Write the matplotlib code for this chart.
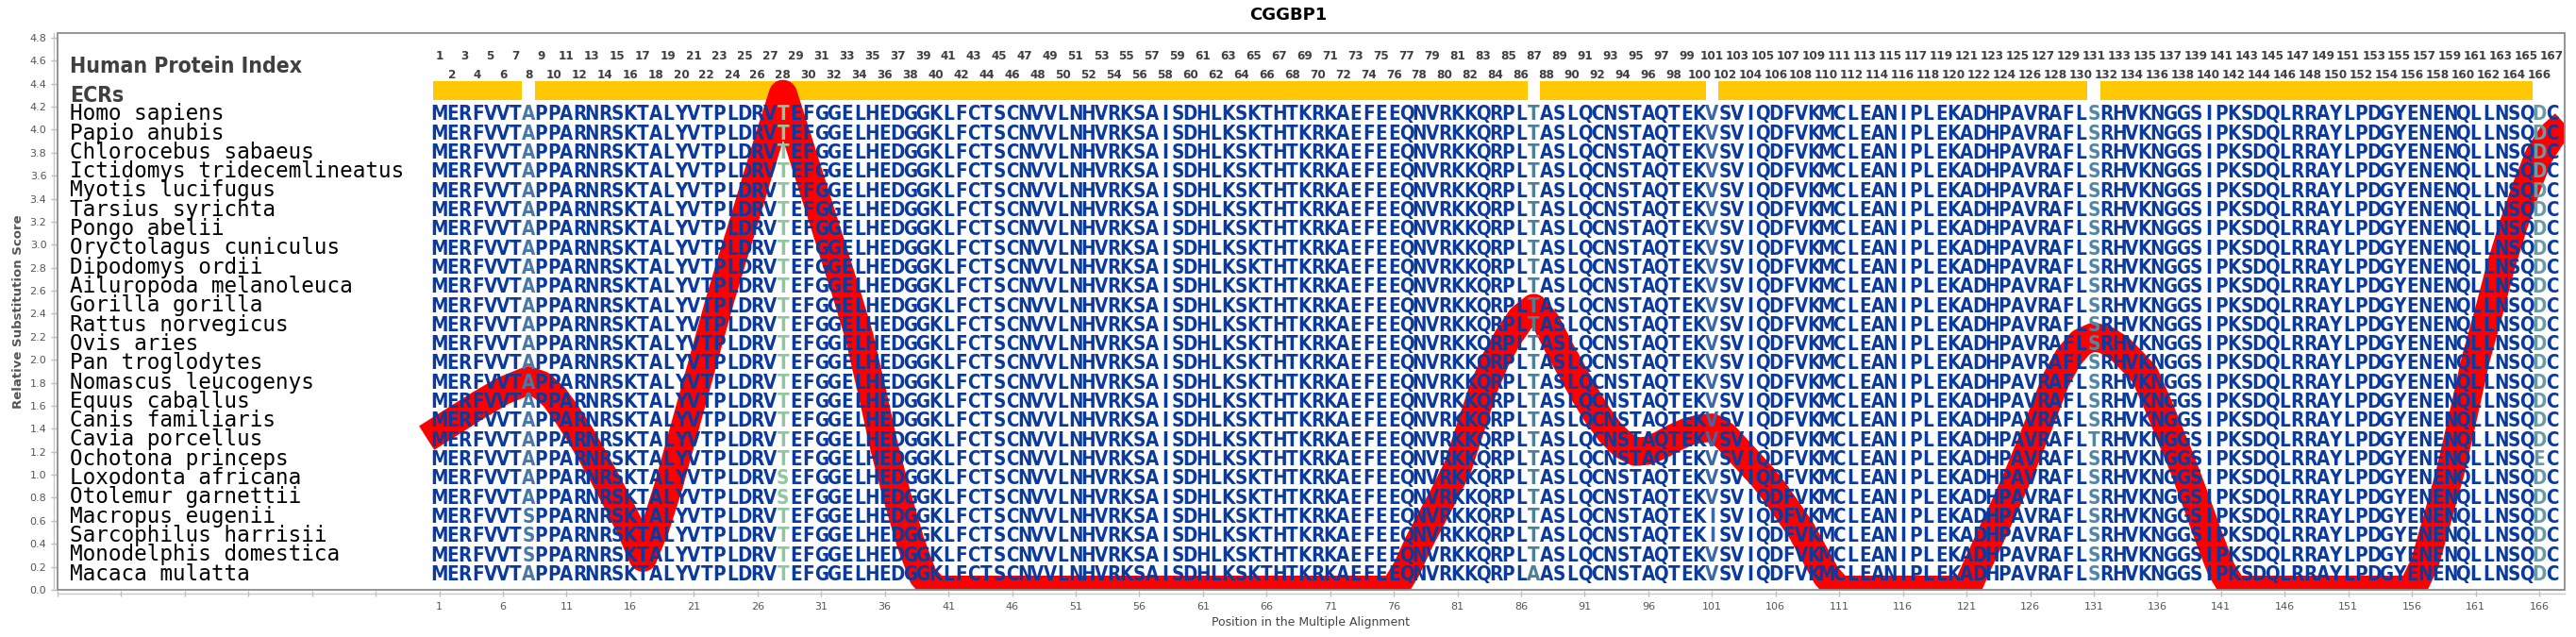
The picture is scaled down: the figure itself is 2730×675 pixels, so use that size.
import numpy as np
import matplotlib
matplotlib.use("Agg")
import matplotlib.pyplot as plt
from matplotlib import font_manager as fm
from matplotlib.font_manager import FontProperties
from matplotlib.patches import Rectangle

# ---------------- data ----------------
TITLE = "CGGBP1"
SPECIES = [
    "Homo sapiens", "Papio anubis", "Chlorocebus sabaeus", "Ictidomys tridecemlineatus",
    "Myotis lucifugus", "Tarsius syrichta", "Pongo abelii", "Oryctolagus cuniculus",
    "Dipodomys ordii", "Ailuropoda melanoleuca", "Gorilla gorilla", "Rattus norvegicus",
    "Ovis aries", "Pan troglodytes", "Nomascus leucogenys", "Equus caballus",
    "Canis familiaris", "Cavia porcellus", "Ochotona princeps", "Loxodonta africana",
    "Otolemur garnettii", "Macropus eugenii", "Sarcophilus harrisii",
    "Monodelphis domestica", "Macaca mulatta",
]
HUMAN_SEQ = ("MERFVVTAPPARNRSKTALYVTPLDRVTEFGGELHEDGGKLFCTSCNVVLNHVRKSAISDHLKSKTHTKR"
             "KAEFEEQNVRKKQRPLTASLQCNSTAQTEKVSVIQDFVKMCLEANIPLEKADHPAVRAFLSRHVKNGGSI"
             "PKSDQLRRAYLPDGYENENQLLNSQDC")
# substitutions relative to human: (species, position, residue)
SUB_SPECIES = ["Macropus eugenii", "Sarcophilus harrisii", "Monodelphis domestica",
               "Loxodonta africana", "Otolemur garnettii", "Macaca mulatta",
               "Macropus eugenii", "Sarcophilus harrisii", "Cavia porcellus",
               "Ochotona princeps"]
SUB_POS = [8, 8, 8, 28, 28, 87, 101, 101, 131, 166]
SUB_RES = ["S", "S", "S", "S", "S", "A", "I", "I", "T", "E"]

# variable columns and their colours
VAR_POS = [8, 28, 87, 101, 131, 166]
VAR_COL = ["#4878aa", "#8fc7a0", "#4d8096", "#3a68aa", "#5087a8", "#6a9aa4"]
BASE_COL = "#0b3a9f"

# evolutionarily conserved regions
ECR_START = [1, 9, 29, 88, 102, 132]
ECR_END = [7, 27, 86, 100, 130, 165]

# relative substitution score curve
CURVE_X = [0, 2, 4, 6, 8, 9, 10, 11, 12, 13, 14, 15, 16, 17, 18, 19, 20, 21, 22, 23,
           24, 25, 26, 27, 28, 29, 30, 31, 32, 33, 34, 35, 36, 37, 38, 39, 40,
           76, 77, 78, 79, 80, 81, 82, 83, 84, 85, 86, 87, 88, 89, 90, 91, 92, 93,
           94, 95, 96, 97, 98, 99, 100, 101, 102, 103, 104, 105, 106, 107, 108, 109,
           110, 111,
           121, 122, 123, 124, 125, 126, 127, 128, 129, 130, 131, 132, 133, 134, 135,
           136, 137, 138, 139, 140, 141, 142,
           156, 157, 158, 159, 160, 161, 162, 163, 164, 165, 166, 167, 168]
CURVE_Y = [1.32, 1.46, 1.60, 1.73, 1.82, 1.78, 1.68, 1.53, 1.36, 1.17, 0.97, 0.76,
           0.54, 0.28, 0.55, 0.90, 1.30, 1.70, 2.10, 2.50, 2.87, 3.23, 3.60, 3.96,
           4.31, 3.97, 3.62, 3.27, 2.92, 2.57, 2.20, 1.72, 1.22, 0.80, 0.42, 0.12, 0.0,
           0.0, 0.18, 0.42, 0.63, 0.84, 1.06, 1.40, 1.74, 2.00, 2.20, 2.36, 2.45,
           2.32, 2.10, 1.90, 1.70, 1.52, 1.37, 1.26, 1.20, 1.21, 1.26, 1.32, 1.37,
           1.40, 1.41, 1.34, 1.22, 1.10, 0.98, 0.84, 0.68, 0.52, 0.32, 0.12, 0.0,
           0.0, 0.25, 0.49, 0.73, 0.98, 1.25, 1.53, 1.82, 2.02, 2.15, 2.20, 2.17,
           2.10, 1.99, 1.87, 1.62, 1.35, 1.08, 0.78, 0.47, 0.18, 0.0,
           0.0, 0.23, 0.62, 1.02, 1.50, 2.00, 2.40, 2.82, 3.18, 3.50, 3.78, 3.95, 4.05]

Y_TICKS = [round(0.2 * i, 1) for i in range(25)]
X_TICKS = list(range(-29, 167, 5))

# ---------------- fonts ----------------
cond_bold = None
for f in fm.fontManager.ttflist:
    if f.fname.endswith("DejaVuSansCondensed-Bold.ttf"):
        cond_bold = f.fname
        break


def bold_cond(size):
    if cond_bold:
        return FontProperties(fname=cond_bold, size=size)
    return FontProperties(family="DejaVu Sans", weight="bold", size=size * 0.9)


mono = FontProperties(family="DejaVu Sans Mono", size=16.3)

# ---------------- figure ----------------
W, H, DPI = 2730, 675, 100
fig = plt.figure(figsize=(W / DPI, H / DPI), dpi=DPI)
L, R, T, B = 61, 2718, 35, 625
ax = fig.add_axes([L / W, (H - B) / H, (R - L) / W, (B - T) / H])
ax.set_xlim(-29, 168)
ax.set_ylim(0, 4.84)
px_per_y = (B - T) / 4.84


def cap_offset(size_pt):
    return 0.729 * size_pt * DPI / 72 / 2 / px_per_y


# ECR bars
for s, e in zip(ECR_START, ECR_END):
    ax.bar((s + e) / 2, 0.16, width=e - s + 1, bottom=4.26, color="#ffc800",
           edgecolor="none", zorder=1)

# substitution score curve
ax.plot(CURVE_X, CURVE_Y, color="#ff0000", lw=21.6, solid_joinstyle="round",
        solid_capstyle="butt", zorder=2)

# labels on the left
hdr = bold_cond(16.5)
ax.text(-28.0, 4.493, "Human Protein Index", fontproperties=hdr, color="#404040",
        va="baseline", ha="left", zorder=4)
ax.text(-28.0, 4.239, "ECRs", fontproperties=hdr, color="#404040",
        va="baseline", ha="left", zorder=4)

# index numbers
numfp = bold_cond(9.6)
for i in range(1, len(HUMAN_SEQ) + 1):
    yb = 4.607 if i % 2 == 1 else 4.444
    ax.text(i, yb, str(i), fontproperties=numfp, color="#404040", ha="center",
            va="baseline", zorder=4)

# alignment
letfp = bold_cond(14.8)
let_off = cap_offset(14.8)
sp_off = cap_offset(14.3)
row_top, row_step = 4.143, 0.1666
col_color = dict(zip(VAR_POS, VAR_COL))
for r, sp in enumerate(SPECIES):
    yc = row_top - r * row_step
    seq = list(HUMAN_SEQ)
    for s2, p, a in zip(SUB_SPECIES, SUB_POS, SUB_RES):
        if s2 == sp:
            seq[p - 1] = a
    ax.text(-28.0, yc - sp_off, sp, fontproperties=mono, color="black",
            ha="left", va="baseline", zorder=4)
    for i, a in enumerate(seq, start=1):
        ax.text(i, yc - let_off, a, fontproperties=letfp,
                color=col_color.get(i, BASE_COL), ha="center", va="baseline",
                zorder=3)

# axes styling
ax.set_xticks(X_TICKS)
ax.set_xticklabels([str(t) if t > 0 else "" for t in X_TICKS])
ax.set_yticks(Y_TICKS)
ax.set_yticklabels([f"{v:.1f}" for v in Y_TICKS])
ax.tick_params(axis="both", direction="inout", length=5, width=1, color="#bbbbbb",
               labelcolor="#555555", labelsize=8)
ax.tick_params(axis="y", pad=3)
ax.tick_params(axis="x", pad=4)
for side in ("top", "right"):
    ax.spines[side].set_visible(False)
for side in ("left", "bottom"):
    ax.spines[side].set_position(("outward", 2.9))
    ax.spines[side].set_color("#c8c8c8")
    ax.spines[side].set_linewidth(1)
ax.add_patch(Rectangle((0, 0), 1, 1, transform=ax.transAxes, fill=False,
                       edgecolor="#8c8c8c", lw=1.3, zorder=6, clip_on=False))

fig.text(0.5, 1 - 20.7 / H, TITLE, ha="center", va="baseline", fontsize=13,
         fontweight="bold", color="black")
fig.text((L + R) / 2 / W, 1 - 659 / H, "Position in the Multiple Alignment",
         ha="center", va="center", fontsize=9, color="#444444")
fig.text(20 / W, 1 - ((T + B) / 2) / H, "Relative Substitution Score", rotation=90,
         ha="center", va="center", fontsize=9.5, fontweight="bold", color="#555555")

fig.savefig("out.png", dpi=DPI)
